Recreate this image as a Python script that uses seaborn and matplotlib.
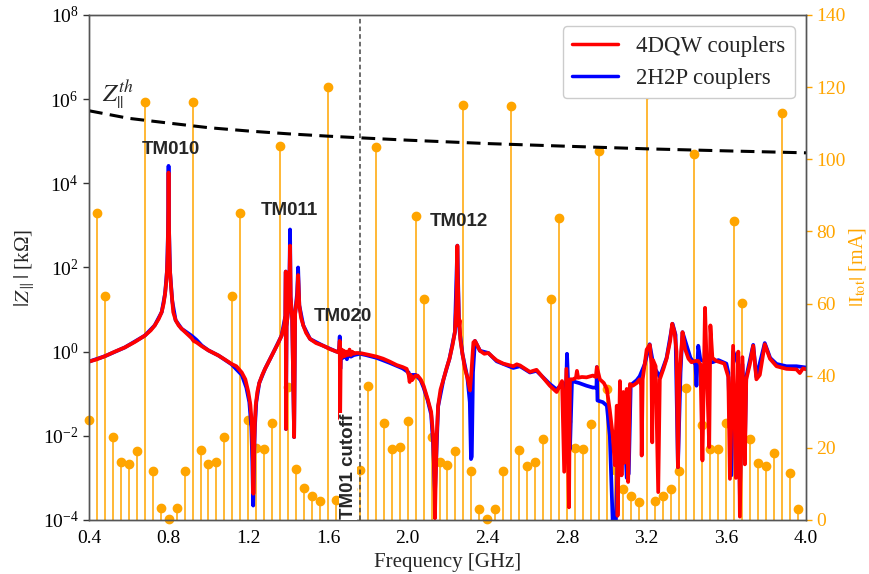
import numpy as np
import pandas as pd
import matplotlib
matplotlib.use("Agg")
import matplotlib.pyplot as plt
import seaborn as sns
from matplotlib.lines import Line2D

# Longitudinal impedance |Z_par| [kOhm] for the 4DQW coupler design
freq_4dqw = [
    0.400, 0.440, 0.480, 0.530, 0.580, 0.630, 0.680, 0.710, 0.730, 0.750,
    0.765, 0.775, 0.782, 0.788, 0.792, 0.795, 0.797, 0.7985, 0.7995, 0.8005,
    0.802, 0.804, 0.807, 0.812, 0.818, 0.823, 0.835, 0.850, 0.865, 0.890,
    0.915, 0.925, 0.940, 0.966, 1.000, 1.050, 1.080, 1.116, 1.140, 1.167,
    1.185, 1.200, 1.210, 1.217, 1.222, 1.2255, 1.229, 1.233, 1.237, 1.245,
    1.255, 1.270, 1.284, 1.310, 1.334, 1.350, 1.367, 1.380, 1.386, 1.388,
    1.389, 1.392, 1.400, 1.406, 1.4095, 1.4125, 1.420, 1.430, 1.435, 1.445,
    1.450, 1.456, 1.465, 1.476, 1.490, 1.510, 1.540, 1.576, 1.610, 1.643,
    1.655, 1.659, 1.661, 1.664, 1.670, 1.675, 1.680, 1.686, 1.692, 1.700,
    1.708, 1.715, 1.722, 1.730, 1.740, 1.760, 1.790, 1.810, 1.845, 1.877,
    1.910, 1.945, 1.975, 1.995, 2.005, 2.010, 2.015, 2.022, 2.030, 2.040,
    2.050, 2.065, 2.080, 2.100, 2.118, 2.128, 2.134, 2.137, 2.141, 2.146,
    2.153, 2.165, 2.180, 2.195, 2.210, 2.225, 2.237, 2.244, 2.2475, 2.2495,
    2.2515, 2.255, 2.258, 2.261, 2.264, 2.275, 2.288, 2.300, 2.313, 2.320,
    2.330, 2.338, 2.350, 2.363, 2.385, 2.405, 2.425, 2.447, 2.480, 2.530,
    2.548, 2.564, 2.590, 2.614, 2.630, 2.647, 2.680, 2.714, 2.748, 2.764,
    2.775, 2.786, 2.797, 2.810, 2.815, 2.830, 2.845, 2.850, 2.856, 2.875,
    2.898, 2.930, 2.945, 2.950, 2.965, 2.985, 3.000, 3.015, 3.030, 3.040,
    3.050, 3.054, 3.066, 3.074, 3.083, 3.090, 3.100, 3.107, 3.116, 3.130,
    3.150, 3.165, 3.172, 3.175, 3.180, 3.190, 3.200, 3.216, 3.224, 3.228,
    3.232, 3.245, 3.258, 3.266, 3.285, 3.300, 3.318, 3.328, 3.340, 3.350,
    3.357, 3.365, 3.380, 3.393, 3.410, 3.425, 3.442, 3.459, 3.470, 3.480,
    3.493, 3.500, 3.514, 3.520, 3.530, 3.550, 3.570, 3.590, 3.610, 3.618,
    3.634, 3.648, 3.660, 3.668, 3.681, 3.693, 3.700, 3.718, 3.735, 3.751,
    3.768, 3.793, 3.819, 3.852, 3.902, 3.952, 3.969, 3.985, 4.000,
]
z_4dqw = [
    0.58, 0.66, 0.78, 1.0, 1.26, 1.7, 2.4, 3.2, 4.2, 6.0,
    8.7, 14, 24, 45, 89, 220, 800, 4000, 1.8e4, 4000,
    800, 220, 80, 35, 16, 8.7, 5.6, 4.2, 3.5, 2.7,
    2.1, 1.8, 1.66, 1.35, 1.07, 0.81, 0.66, 0.51, 0.45, 0.32,
    0.22, 0.11, 0.056, 0.021, 0.004, 4.2e-4, 0.005, 0.02, 0.052, 0.11,
    0.18, 0.28, 0.39, 0.68, 1.15, 1.6, 2.4, 4.2, 7.1, 80,
    0.0145, 4.0, 10, 32, 330, 20, 6.3, 0.0093, 7.9, 20,
    66, 12.6, 6.3, 4.2, 2.8, 2.0, 1.6, 1.38, 1.15, 1.0,
    0.95, 1.8, 0.025, 0.89, 1.12, 0.76, 1.05, 0.79, 1.0, 0.83,
    1.12, 0.83, 1.0, 0.89, 0.93, 0.93, 0.87, 0.83, 0.76, 0.68,
    0.58, 0.48, 0.43, 0.39, 0.28, 0.19, 0.28, 0.21, 0.24, 0.27,
    0.27, 0.22, 0.155, 0.076, 0.037, 0.01, 0.001, 1.1e-4, 0.001, 0.01,
    0.052, 0.126, 0.22, 0.40, 0.68, 1.4, 2.9, 12.6, 63, 330,
    63, 12.6, 4.0, 5.6, 2.0, 0.89, 0.39, 0.24, 0.12, 0.32,
    1.66, 1.8, 1.4, 1.05, 0.89, 0.93, 0.76, 0.62, 0.52, 0.45,
    0.50, 0.47, 0.39, 0.33, 0.35, 0.37, 0.24, 0.155, 0.11, 0.155,
    0.20, 0.0014, 0.39, 2.0e-4, 0.22, 0.22, 0.24, 0.35, 0.24, 0.25,
    0.245, 0.27, 0.25, 0.43, 0.22, 0.18, 0.13, 0.04, 0.01, 0.002,
    0.052, 1.26e-4, 0.20, 0.00115, 0.11, 0.0023, 0.13, 8e-4, 0.17, 0.155,
    0.18, 0.22, 0.16, 0.0034, 0.22, 0.50, 1.12, 1.45, 0.50, 0.007,
    0.63, 0.45, 4.6e-4, 0.22, 0.40, 0.68, 1.8, 4.6, 2.9, 1.0,
    0.0018, 0.25, 2.9, 1.15, 0.68, 0.56, 0.60, 0.60, 0.50, 0.0026,
    11, 0.79, 0.0054, 4.2, 0.71, 0.60, 0.56, 0.52, 0.25, 9.5e-4,
    1.38, 0.001, 1.0, 1.2e-4, 0.74, 0.0021, 0.22, 0.50, 1.38, 0.22,
    0.28, 1.5, 0.68, 0.45, 0.39, 0.38, 0.31, 0.40, 0.38,
]

# Longitudinal impedance |Z_par| [kOhm] for the 2H2P coupler design
freq_2h2p = [
    0.400, 0.480, 0.580, 0.680, 0.730, 0.765, 0.782, 0.792, 0.797, 0.7985,
    0.7995, 0.8005, 0.802, 0.807, 0.818, 0.835, 0.865, 0.915, 0.940, 0.966,
    1.000, 1.050, 1.116, 1.167, 1.190, 1.205, 1.215, 1.220, 1.2245, 1.229,
    1.233, 1.240, 1.255, 1.284, 1.334, 1.367, 1.386, 1.388, 1.389, 1.392,
    1.400, 1.406, 1.4095, 1.4125, 1.420, 1.430, 1.435, 1.445, 1.450, 1.456,
    1.476, 1.510, 1.576, 1.643, 1.655, 1.659, 1.662, 1.666, 1.675, 1.685,
    1.695, 1.705, 1.715, 1.730, 1.760, 1.790, 1.845, 1.910, 1.975, 2.005,
    2.012, 2.020, 2.040, 2.065, 2.080, 2.100, 2.118, 2.128, 2.137, 2.146,
    2.153, 2.180, 2.210, 2.237, 2.2495, 2.258, 2.275, 2.300, 2.312, 2.318,
    2.322, 2.328, 2.338, 2.363, 2.405, 2.447, 2.530, 2.564, 2.614, 2.647,
    2.714, 2.748, 2.780, 2.790, 2.800, 2.808, 2.815, 2.825, 2.860, 2.898,
    2.930, 2.948, 2.950, 2.953, 2.980, 3.000, 3.015, 3.030, 3.045, 3.055,
    3.070, 3.090, 3.100, 3.110, 3.120, 3.150, 3.165, 3.190, 3.215, 3.235,
    3.266, 3.300, 3.330, 3.345, 3.357, 3.370, 3.380, 3.420, 3.445, 3.450,
    3.459, 3.470, 3.530, 3.560, 3.600, 3.610, 3.625, 3.635, 3.660, 3.668,
    3.681, 3.693, 3.700, 3.735, 3.751, 3.793, 3.820, 3.852, 3.902, 3.952,
    4.000,
]
z_2h2p = [
    0.58, 0.78, 1.26, 2.4, 4.2, 8.7, 24, 89, 800, 5000,
    2.6e4, 5000, 800, 80, 16, 5.6, 3.5, 2.4, 1.9, 1.4,
    1.07, 0.81, 0.50, 0.28, 0.14, 0.063, 0.016, 0.0025, 2.2e-4, 0.0032,
    0.016, 0.063, 0.18, 0.39, 1.15, 2.4, 7.1, 80, 0.0145, 4.0,
    10, 40, 800, 20, 6.3, 0.0093, 7.9, 25, 100, 12.6,
    4.2, 2.0, 1.38, 1.0, 1.0, 2.3, 0.39, 1.0, 0.71, 0.89,
    0.66, 0.95, 0.76, 0.83, 0.89, 0.83, 0.71, 0.54, 0.40, 0.32,
    0.24, 0.28, 0.28, 0.21, 0.14, 0.071, 0.032, 0.0063, 4.2e-4, 0.0063,
    0.05, 0.22, 0.68, 2.9, 330, 4.0, 0.89, 0.24, 0.063, 0.0028,
    0.0032, 0.32, 1.8, 1.05, 0.93, 0.59, 0.41, 0.45, 0.32, 0.35,
    0.17, 0.126, 0.18, 0.01, 0.89, 0.1, 0.0049, 0.20, 0.18, 0.155,
    0.14, 0.14, 0.43, 0.069, 0.063, 0.052, 0.01, 8e-5, 8e-5, 0.0032,
    0.063, 0.01, 0.001, 0.00126, 0.16, 0.21, 0.26, 0.50, 1.5, 0.45,
    0.25, 0.71, 4.6, 2.5, 0.0018, 0.32, 2.9, 0.71, 0.50, 0.155,
    1.38, 0.63, 0.56, 0.63, 0.52, 0.32, 0.00115, 1.0, 0.50, 3.8e-4,
    0.50, 0.005, 0.25, 1.45, 0.25, 1.6, 0.71, 0.51, 0.45, 0.45,
    0.42,
]

# Beam-induced instability threshold Z_par^th [kOhm]
freq_th = [0.4, 0.6, 0.8, 1.0, 1.2, 1.4, 1.6, 1.8, 2.0, 2.4, 2.8, 3.2, 3.6, 4.0]
z_th = [5.3e5, 3.5e5, 2.7e5, 2.1e5, 1.75e5, 1.5e5, 1.32e5, 1.18e5, 1.06e5,
        8.8e4, 7.6e4, 6.6e4, 5.9e4, 5.3e4]

# Beam current spectrum |I_tot| [mA] at the bunch harmonics
line_freq = [
    0.40, 0.44, 0.48, 0.52, 0.56, 0.60, 0.64, 0.68, 0.72, 0.76,
    0.80, 0.84, 0.88, 0.92, 0.96, 1.00, 1.04, 1.08, 1.12, 1.16,
    1.20, 1.24, 1.28, 1.32, 1.36, 1.40, 1.44, 1.48, 1.52, 1.56,
    1.60, 1.64, 1.68, 1.72, 1.76, 1.80, 1.84, 1.88, 1.92, 1.96,
    2.00, 2.04, 2.08, 2.12, 2.16, 2.20, 2.24, 2.28, 2.32, 2.36,
    2.40, 2.44, 2.48, 2.52, 2.56, 2.60, 2.64, 2.68, 2.72, 2.76,
    2.80, 2.84, 2.88, 2.92, 2.96, 3.00, 3.04, 3.08, 3.12, 3.16,
    3.20, 3.24, 3.28, 3.32, 3.36, 3.40, 3.44, 3.48, 3.52, 3.56,
    3.60, 3.64, 3.68, 3.72, 3.76, 3.80, 3.84, 3.88, 3.92, 3.96,
]
line_current = [
    27.7, 85.0, 62.0, 23.0, 16.2, 15.4, 19.2, 116.0, 13.7, 3.2,
    0.2, 3.2, 13.7, 116.0, 19.4, 15.4, 16.2, 22.9, 62.0, 85.0,
    27.7, 20.0, 19.8, 26.8, 103.7, 36.9, 14.0, 8.8, 6.7, 5.4,
    120.0, 5.5, 6.6, 8.6, 13.9, 37.1, 103.3, 26.8, 19.8, 20.1,
    27.5, 84.4, 61.2, 22.9, 16.1, 15.2, 19.1, 115.0, 13.6, 3.1,
    0.2, 3.0, 13.7, 114.8, 19.4, 15.0, 16.0, 22.5, 61.2, 83.7,
    27.5, 20.0, 19.6, 26.5, 102.2, 36.4, 13.9, 8.6, 6.7, 5.1,
    118.1, 5.4, 6.6, 8.6, 13.6, 36.5, 101.5, 26.4, 19.6, 19.7,
    27.0, 82.9, 60.1, 22.5, 15.8, 14.9, 18.6, 112.8, 13.1, 3.0,
]

mode_names = ["TM010", "TM011", "TM020", "TM012"]
mode_freq = [0.812, 1.404, 1.673, 2.255]
mode_z = [6.2e4, 2.3e3, 6.9, 1.26e3]

cutoff_freq = 1.76
x_ticks = [0.4, 0.8, 1.2, 1.6, 2.0, 2.4, 2.8, 3.2, 3.6, 4.0]
z_ticks = [1e-4, 1e-2, 1e0, 1e2, 1e4, 1e6, 1e8]
i_ticks = [0, 20, 40, 60, 80, 100, 120, 140]

sns.set_style("white")
plt.rcParams["font.family"] = ["Liberation Serif", "DejaVu Serif"]
plt.rcParams["mathtext.fontset"] = "stix"

ORANGE = "#FFA500"

fig = plt.figure(figsize=(8.69, 5.74), dpi=100)
ax = fig.add_axes([0.1024, 0.0941, 0.8251, 0.8798])
ax2 = ax.twinx()
ax.set_zorder(ax2.get_zorder() + 1)
ax.patch.set_visible(False)

# current spectrum on the right axis, behind the impedance curves
markerline, stemlines, baseline = ax2.stem(line_freq, line_current,
                                           linefmt="-", markerfmt="o", basefmt=" ")
plt.setp(stemlines, color=ORANGE, linewidth=1.3, alpha=0.85)
plt.setp(markerline, color=ORANGE, markersize=6, clip_on=False)
ax2.set_ylim(0, 140)
ax2.set_yticks(i_ticks)
ax2.set_ylabel(r"$|\mathrm{I_{tot}}|$ [mA]", color=ORANGE, fontsize=14.5, labelpad=1)
ax2.tick_params(axis="y", colors=ORANGE, labelsize=14, length=4, width=1, direction="out")

# impedance curves
ax.set_yscale("log")
df_b = pd.DataFrame({"f": freq_2h2p, "z": z_2h2p})
df_r = pd.DataFrame({"f": freq_4dqw, "z": z_4dqw})
sns.lineplot(data=df_b, x="f", y="z", ax=ax, color="blue", linewidth=2.7,
             estimator=None, sort=False)
sns.lineplot(data=df_r, x="f", y="z", ax=ax, color="red", linewidth=2.7,
             estimator=None, sort=False)

ax.plot(freq_th, z_th, color="black", linestyle="--", linewidth=2.2, dashes=(4.5, 2.4))
ax.axvline(cutoff_freq, color="#444444", linestyle=(0, (3, 2)), linewidth=1.1)

for name, f, z in zip(mode_names, mode_freq, mode_z):
    ax.text(f, z, name, family=["Liberation Sans", "DejaVu Sans"], fontweight="bold",
            fontsize=13.5, ha="center", va="center")
ax.text(1.7015, 1.05e-4, "TM01 cutoff", family=["Liberation Sans", "DejaVu Sans"],
        fontweight="bold", fontsize=13.5, rotation=90, ha="center", va="bottom",
        bbox=dict(facecolor="white", edgecolor="none", pad=0.5))
ax.text(0.546, 1.3e6, r"$Z_{||}^{th}$", fontsize=18, ha="center", va="center")

ax.set_xlim(0.4, 4.0)
ax.set_ylim(1e-4, 1e8)
ax.set_xticks(x_ticks)
ax.set_xticklabels([f"{t:.1f}" for t in x_ticks])
ax.set_yticks(z_ticks)
ax.yaxis.set_minor_locator(matplotlib.ticker.NullLocator())
ax.tick_params(axis="both", labelsize=14, length=4, width=1, direction="out",
               colors="#333333", labelcolor="black")
ax.set_xlabel("Frequency [GHz]", fontsize=15)
ax.set_ylabel(r"$|Z_{\parallel}|$ [kΩ]", fontsize=15)

for a in (ax, ax2):
    for s in a.spines.values():
        s.set_color("#555555")
        s.set_linewidth(1.0)

handles = [Line2D([], [], color="red", linewidth=2.5),
           Line2D([], [], color="blue", linewidth=2.5)]
ax.legend(handles, ["4DQW couplers", "2H2P couplers"], loc="upper right",
          fontsize=16.5, frameon=True, framealpha=1, edgecolor="#cccccc",
          fancybox=True)

fig.savefig("out.png", dpi=100)
